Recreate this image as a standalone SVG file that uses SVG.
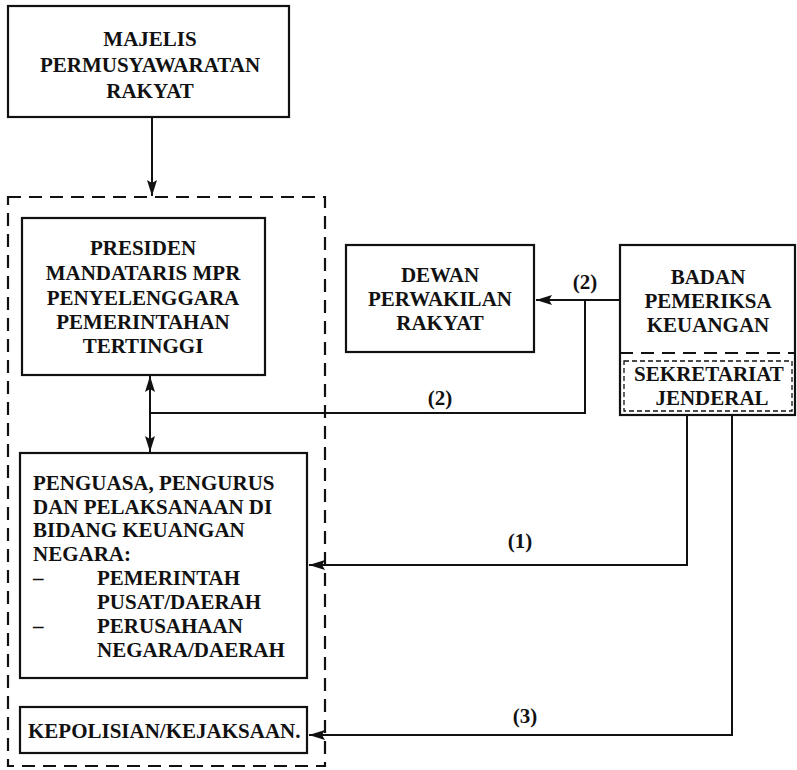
<svg xmlns="http://www.w3.org/2000/svg" width="797" height="770" viewBox="0 0 797 770">
<style>
.box{fill:#fff;stroke:#111;stroke-width:2.2}
.t{font-family:"Liberation Serif","Times New Roman",serif;font-weight:bold;font-size:21px;fill:#111}
.c{text-anchor:middle}
.ln{fill:none;stroke:#111;stroke-width:2}
.dash{fill:none;stroke:#111;stroke-width:2.2;stroke-dasharray:13 8}
</style>
<defs>
<marker id="ah" viewBox="0 0 16 10" refX="16" refY="5" markerWidth="16" markerHeight="10" markerUnits="userSpaceOnUse" orient="auto">
<path d="M0,0 L16,5 L0,10 L3,5 Z" fill="#111"/>
</marker>
</defs>
<rect width="797" height="770" fill="#fff"/>
<g id="pemerintah-group">
<rect x="8" y="197" width="317" height="569" class="dash"/>
</g>
<g id="mpr">
<rect x="8" y="6" width="281" height="111" class="box"/>
<text class="t c" x="150" y="46">MAJELIS</text>
<text class="t c" x="150" y="72">PERMUSYAWARATAN</text>
<text class="t c" x="150" y="98">RAKYAT</text>
</g>
<g id="presiden">
<rect x="22" y="218" width="243" height="157" class="box"/>
<text class="t c" x="143" y="255">PRESIDEN</text>
<text class="t c" x="143" y="280">MANDATARIS MPR</text>
<text class="t c" x="143" y="305">PENYELENGGARA</text>
<text class="t c" x="143" y="329">PEMERINTAHAN</text>
<text class="t c" x="143" y="353">TERTINGGI</text>
</g>
<g id="dpr">
<rect x="346" y="245" width="188" height="107" class="box"/>
<text class="t c" x="440" y="282">DEWAN</text>
<text class="t c" x="440" y="306">PERWAKILAN</text>
<text class="t c" x="440" y="330">RAKYAT</text>
</g>
<g id="bpk">
<rect x="620" y="245" width="175" height="170" class="box"/>
<text class="t c" x="708" y="284">BADAN</text>
<text class="t c" x="708" y="308">PEMERIKSA</text>
<text class="t c" x="708" y="332">KEUANGAN</text>
<line x1="620" y1="353" x2="795" y2="353" class="dash" stroke-dasharray="11 6"/>
<rect x="624" y="361" width="168" height="50" fill="none" stroke="#111" stroke-width="1.3" stroke-dasharray="5 3"/>
<text class="t c" x="709" y="381">SEKRETARIAT</text>
<text class="t c" x="712" y="405">JENDERAL</text>
</g>
<g id="penguasa">
<rect x="20" y="453" width="287" height="225" class="box"/>
<text class="t" x="33" y="490">PENGUASA, PENGURUS</text>
<text class="t" x="33" y="514">DAN PELAKSANAAN DI</text>
<text class="t" x="33" y="537">BIDANG KEUANGAN</text>
<text class="t" x="33" y="561">NEGARA:</text>
<text class="t" x="33" y="585">–</text>
<text class="t" x="97" y="585">PEMERINTAH</text>
<text class="t" x="97" y="609">PUSAT/DAERAH</text>
<text class="t" x="33" y="633">–</text>
<text class="t" x="97" y="633">PERUSAHAAN</text>
<text class="t" x="97" y="657">NEGARA/DAERAH</text>
</g>
<g id="kepolisian">
<rect x="20" y="707" width="287" height="46" class="box"/>
<text class="t" x="28" y="738">KEPOLISIAN/KEJAKSAAN.</text>
</g>
<g id="connectors">
<line x1="152" y1="117" x2="152" y2="196" class="ln" marker-end="url(#ah)"/>
<line x1="150" y1="413" x2="150" y2="376" class="ln" marker-end="url(#ah)"/>
<line x1="150" y1="413" x2="150" y2="452" class="ln" marker-end="url(#ah)"/>
<polyline points="150,413 585,413 585,300" class="ln"/>
<line x1="620" y1="300" x2="536" y2="300" class="ln" marker-end="url(#ah)"/>
<polyline points="687,415 687,565 309,565" class="ln" marker-end="url(#ah)"/>
<polyline points="732,415 732,735 309,735" class="ln" marker-end="url(#ah)"/>
<text class="t c" x="585" y="289">(2)</text>
<text class="t c" x="440" y="405">(2)</text>
<text class="t c" x="520" y="548">(1)</text>
<text class="t c" x="525" y="723">(3)</text>
</g>
</svg>
